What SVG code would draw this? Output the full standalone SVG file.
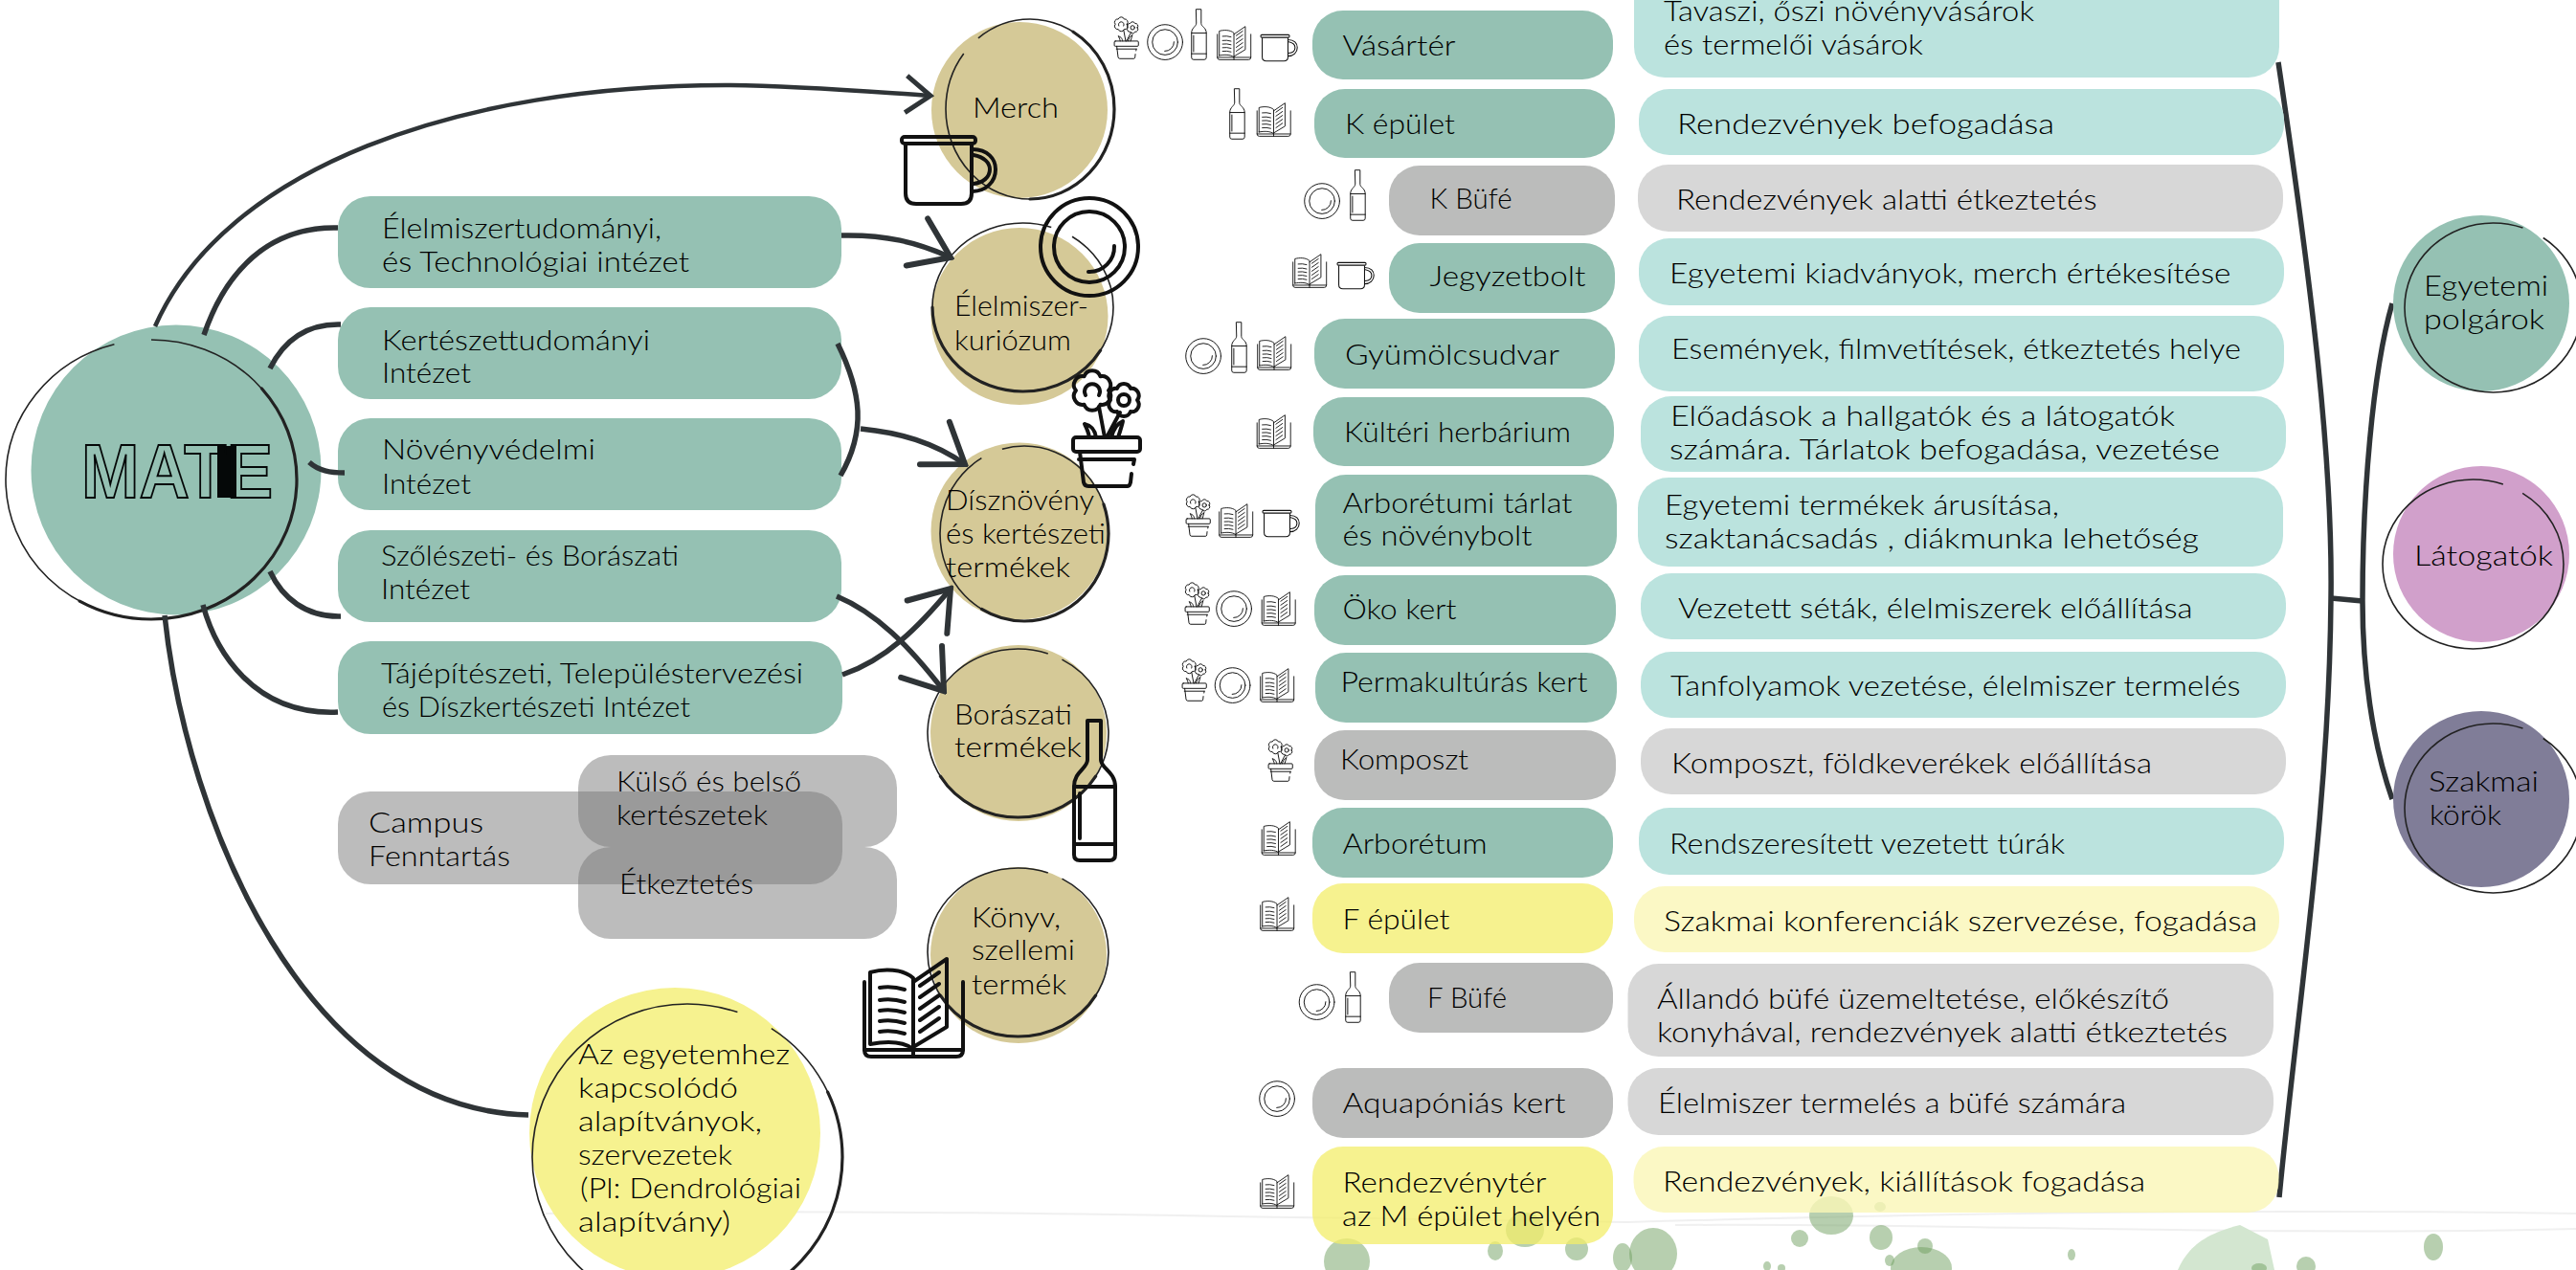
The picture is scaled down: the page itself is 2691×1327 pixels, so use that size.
<svg xmlns="http://www.w3.org/2000/svg" width="2691" height="1327" viewBox="0 0 2691 1327">
<style>
text{font-family:"Lato","Liberation Sans",sans-serif;font-size:29px;font-weight:300;fill:#000;}
.teal{fill:#95c1b3}.gray{fill:#bbbcbb}.yel{fill:#f3ee6a;fill-opacity:.75}.ltt{fill:#bbe3de}.ltg{fill:#d7d7d7}.lty{fill:#faf6b6;fill-opacity:.8}.ov{fill:#767776;fill-opacity:.49}
.beige{fill:#d5c997}
.sk{fill:none;stroke:#222;stroke-width:1.6;}
.skb{fill:none;stroke:#222;stroke-width:3.2;stroke-linecap:round}
.con{fill:none;stroke:#2f3437;stroke-width:5.5;}
.blob{fill:#6fa060;fill-opacity:.5}
.ic{fill:none;stroke:#111;stroke-linecap:round;stroke-linejoin:round}
use{stroke-width:2.7}
#large-icons use{stroke-width:4}
</style>
<defs>
<marker id="head" markerUnits="userSpaceOnUse" viewBox="-46 -32 50 64" refX="0" refY="0" markerWidth="50" markerHeight="64" orient="auto"><path d="M-38.5 -27L0 0L-38.5 27" fill="none" stroke="#2f3437" stroke-width="6" stroke-linecap="round"/></marker>
<marker id="heads" markerUnits="userSpaceOnUse" viewBox="-32 -24 36 48" refX="0" refY="0" markerWidth="36" markerHeight="48" orient="auto"><path d="M-25.6 -19.3L0 0L-25.6 19.3" fill="none" stroke="#2f3437" stroke-width="5"/></marker>
<g id="flower" class="ic">
<path d="M40 23A9 9 0 0 1 31.500 37.700A9 9 0 0 1 14.500 37.700A9 9 0 0 1 6 23A9 9 0 0 1 14.500 8.300A9 9 0 0 1 31.500 8.300A9 9 0 0 1 40 23Z"/>
<path d="M16 28A8 8 0 1 1 30 28"/>
<path d="M70 33A7.500 7.500 0 0 1 63 45.100A7.500 7.500 0 0 1 49 45.100A7.500 7.500 0 0 1 42 33A7.500 7.500 0 0 1 49 20.900A7.500 7.500 0 0 1 63 20.900A7.500 7.500 0 0 1 70 33Z"/>
<circle cx="56" cy="33" r="6"/>
<path d="M30 40L36 72M52 46L38 72M15 58C24 60 26 66 27 72M20 72C19 66 17 62 15 58M55 55C48 58 45 64 43 72M50 72C52 66 54 60 55 55"/>
<rect x="3" y="72" width="70" height="15" rx="3"/>
<path d="M9 95L67 95M10 87L14 119Q15 123 19 123L60 123Q62 123 63 119L64 110M66 100L67 95"/>
</g>
<g id="mug" class="ic">
<rect x="0" y="1" width="77" height="7" rx="3"/>
<path d="M4 10L4 60Q4 71 15 71L62 71Q73 71 73 60L73 10"/>
<path d="M73 14C90 14 98 24 98 35C98 48 88 58 73 58M75 20C86 22 92 28 92 35C92 43 85 49 75 50"/>
</g>
<g id="plate" class="ic">
<circle cx="53" cy="53" r="51"/><circle cx="53" cy="53" r="37"/>
<path d="M79 52A26 26 0 0 1 52 79"/>
</g>
<g id="bottle" class="ic">
<path d="M16 2L30 2L30 43C30 52 45 55 45 71L45 142Q45 148 39 148L8 148Q2 148 2 142L2 71C2 55 16 52 16 43Z"/>
<path d="M2 71L45 71M2 131L45 131M8 78L8 125"/>
</g>
<g id="book" class="ic">
<path d="M2 26L2 97Q2 104 9 104L98 104Q105 104 105 97L105 26"/>
<path d="M8 91L8 16C22 12 42 12 53 22L53 96C42 88 24 88 8 91ZM53 26L88 2L88 73L53 94"/>
<path d="M2 97L53 97M53 97L105 97M53 97L53 104"/>
<path d="M18 32Q31 30 44 34M18 45Q31 43 44 47M18 56Q31 54 44 58M18 67Q31 65 44 69M18 78Q31 76 44 80M60 30L80 16M60 42L80 28M60 54L80 40M60 66L80 52M60 78L80 64"/>
</g>
</defs>

<rect width="2691" height="1327" fill="#fff"/>

<g id="background">
<path d="M570 1268C900 1262 1300 1272 1700 1277C1950 1270 2300 1262 2691 1268M1750 1280C2050 1278 2350 1292 2691 1284" fill="none" stroke="#f0f0f0" stroke-width="2"/>
<ellipse class="blob" cx="1407" cy="1318" rx="24" ry="24"/>
<ellipse class="blob" cx="1562" cy="1307" rx="8" ry="10"/>
<ellipse class="blob" cx="1593" cy="1285" rx="20" ry="18"/>
<ellipse class="blob" cx="1647" cy="1305" rx="12" ry="12"/>
<ellipse class="blob" cx="1695" cy="1314" rx="10" ry="15"/>
<ellipse class="blob" cx="1727" cy="1310" rx="25" ry="27"/>
<ellipse class="blob" cx="1846" cy="1323" rx="4" ry="5"/>
<ellipse class="blob" cx="1861" cy="1325" rx="4" ry="4"/>
<ellipse class="blob" cx="1880" cy="1294" rx="9" ry="9"/>
<ellipse class="blob" cx="1913" cy="1270" rx="23" ry="20"/>
<ellipse class="blob" cx="1964" cy="1261" rx="6" ry="5"/>
<ellipse class="blob" cx="1965" cy="1293" rx="12" ry="13"/>
<ellipse class="blob" cx="1974" cy="1317" rx="5" ry="6"/>
<ellipse class="blob" cx="2011" cy="1302" rx="8" ry="8"/>
<ellipse class="blob" cx="2007" cy="1325" rx="32" ry="22"/>
<ellipse class="blob" cx="2164" cy="1311" rx="4" ry="6"/>
<path d="M2340 1280L2369 1295L2376 1327L2275 1327C2285 1305 2300 1290 2340 1280Z" fill="#d3e6d0"/>
<ellipse class="blob" cx="2360" cy="1325" rx="8" ry="5"/>
<ellipse class="blob" cx="2409" cy="1323" rx="10" ry="10"/>
<ellipse class="blob" cx="2542" cy="1303" rx="10" ry="14"/>
</g>

<g id="node-mate">
<circle cx="184" cy="491" r="151.5" fill="#95c1b3"/>
<ellipse class="sk" cx="158" cy="501" rx="152" ry="146" pathLength="360" stroke-dasharray="345 15" stroke-dashoffset="-270"/>
<ellipse class="skb" cx="158" cy="501" rx="152" ry="146" pathLength="360" stroke-dasharray="160 200" stroke-dashoffset="-320"/>
<rect x="227" y="466" width="20" height="54" fill="#050808"/>
<text x="85" y="520" textLength="200" lengthAdjust="spacingAndGlyphs" style="font-family:'Liberation Sans',sans-serif;font-size:80px;font-weight:700;fill:none;stroke:#050808;stroke-width:2">MATE</text>
</g>

<g id="node-elelmiszertud"><rect class="teal" x="353" y="205" width="526" height="96" rx="34"/>
<text x="399" y="249" textLength="292" lengthAdjust="spacingAndGlyphs">Élelmiszertudományi,</text>
<text x="399" y="283.500" textLength="321" lengthAdjust="spacingAndGlyphs">és Technológiai intézet</text></g>
<g id="node-kerteszet"><rect class="teal" x="353" y="321" width="526" height="96" rx="34"/>
<text x="399" y="366" textLength="280" lengthAdjust="spacingAndGlyphs">Kertészettudományi</text>
<text x="399" y="400" textLength="93" lengthAdjust="spacingAndGlyphs">Intézet</text></g>
<g id="node-novenyvedelmi"><rect class="teal" x="353" y="437" width="526" height="96" rx="34"/>
<text x="399" y="480" textLength="223" lengthAdjust="spacingAndGlyphs">Növényvédelmi</text>
<text x="399" y="516" textLength="93" lengthAdjust="spacingAndGlyphs">Intézet</text></g>
<g id="node-szoleszeti"><rect class="teal" x="353" y="554" width="526" height="96" rx="34"/>
<text x="398" y="590.500" textLength="311" lengthAdjust="spacingAndGlyphs">Szőlészeti- és Borászati</text>
<text x="398" y="626" textLength="93" lengthAdjust="spacingAndGlyphs">Intézet</text></g>
<g id="node-tajepiteszeti"><rect class="teal" x="353" y="670" width="527" height="97" rx="34"/>
<text x="398" y="714" textLength="441" lengthAdjust="spacingAndGlyphs">Tájépítészeti, Településtervezési</text>
<text x="399" y="749" textLength="322" lengthAdjust="spacingAndGlyphs">és Díszkertészeti Intézet</text></g>

<g id="node-campus"><rect class="ov" x="353" y="827" width="527" height="97" rx="34"/>
<text x="385" y="870" textLength="120" lengthAdjust="spacingAndGlyphs">Campus</text>
<text x="385" y="905" textLength="148" lengthAdjust="spacingAndGlyphs">Fenntartás</text></g>
<g id="node-kerteszetek"><rect class="ov" x="604" y="789" width="333" height="96" rx="34"/>
<text x="644" y="827" textLength="193" lengthAdjust="spacingAndGlyphs">Külső és belső</text>
<text x="644" y="862" textLength="158" lengthAdjust="spacingAndGlyphs">kertészetek</text></g>
<g id="node-etkeztetes"><rect class="ov" x="604" y="885" width="333" height="96" rx="34"/>
<text x="647" y="934" textLength="140" lengthAdjust="spacingAndGlyphs">Étkeztetés</text></g>

<g id="node-merch"><circle class="beige" cx="1065" cy="115" r="92"/>
<ellipse class="sk" cx="1076" cy="114" rx="88" ry="94" pathLength="360" stroke-dasharray="346 14" stroke-dashoffset="-233"/>
<ellipse class="skb" cx="1076" cy="114" rx="88" ry="94" pathLength="360" stroke-dasharray="150 210" stroke-dashoffset="-300"/>
<text x="1016" y="123" textLength="90" lengthAdjust="spacingAndGlyphs">Merch</text></g>
<g id="node-kuriozum"><circle class="beige" cx="1065" cy="330.500" r="92.500"/>
<ellipse class="sk" cx="1068.500" cy="321" rx="94.500" ry="88" pathLength="360" stroke-dasharray="345 15" stroke-dashoffset="-304"/>
<ellipse class="skb" cx="1068.500" cy="321" rx="94.500" ry="88" pathLength="360" stroke-dasharray="150 210" stroke-dashoffset="-30"/>
<text x="997" y="330" textLength="140" lengthAdjust="spacingAndGlyphs">Élelmiszer-</text>
<text x="997" y="366" textLength="122" lengthAdjust="spacingAndGlyphs">kuriózum</text></g>
<g id="node-disznoveny"><circle class="beige" cx="1065" cy="555" r="92.500"/>
<ellipse class="sk" cx="1070" cy="557.500" rx="88" ry="91.500" pathLength="360" stroke-dasharray="345 15" stroke-dashoffset="-255"/>
<ellipse class="skb" cx="1070" cy="557.500" rx="88" ry="91.500" pathLength="360" stroke-dasharray="140 220" stroke-dashoffset="-340"/>
<text x="988" y="533" textLength="155" lengthAdjust="spacingAndGlyphs">Dísznövény</text>
<text x="988" y="568" textLength="167" lengthAdjust="spacingAndGlyphs">és kertészeti</text>
<text x="988" y="603" textLength="130" lengthAdjust="spacingAndGlyphs">termékek</text></g>
<g id="node-boraszati"><circle class="beige" cx="1064" cy="766" r="92"/>
<ellipse class="sk" cx="1063.500" cy="766" rx="94.500" ry="88" pathLength="360" stroke-dasharray="350 10" stroke-dashoffset="-300"/>
<ellipse class="skb" cx="1063.500" cy="766" rx="94.500" ry="88" pathLength="360" stroke-dasharray="120 240" stroke-dashoffset="-30"/>
<text x="997" y="757" textLength="123" lengthAdjust="spacingAndGlyphs">Borászati</text>
<text x="997" y="791" textLength="133" lengthAdjust="spacingAndGlyphs">termékek</text></g>
<g id="node-konyv"><circle class="beige" cx="1064" cy="998" r="92"/>
<ellipse class="sk" cx="1063.500" cy="995" rx="94.500" ry="88" pathLength="360" stroke-dasharray="350 10" stroke-dashoffset="-300"/>
<ellipse class="skb" cx="1063.500" cy="995" rx="94.500" ry="88" pathLength="360" stroke-dasharray="120 240" stroke-dashoffset="-30"/>
<text x="1015" y="969" textLength="93" lengthAdjust="spacingAndGlyphs">Könyv,</text>
<text x="1015" y="1003" textLength="108" lengthAdjust="spacingAndGlyphs">szellemi</text>
<text x="1015" y="1039" textLength="99" lengthAdjust="spacingAndGlyphs">termék</text></g>
<g id="node-alapitvanyok"><circle cx="705" cy="1184" r="152" fill="#f6f28f"/>
<ellipse class="sk" cx="718" cy="1209" rx="162" ry="160" pathLength="360" stroke-dasharray="346 14" stroke-dashoffset="-303"/>
<ellipse class="skb" cx="718" cy="1209" rx="162" ry="160" pathLength="360" stroke-dasharray="110 250" stroke-dashoffset="-335"/>
<text x="604" y="1112" textLength="221" lengthAdjust="spacingAndGlyphs">Az egyetemhez</text>
<text x="604" y="1147" textLength="167" lengthAdjust="spacingAndGlyphs">kapcsolódó</text>
<text x="604" y="1182" textLength="192" lengthAdjust="spacingAndGlyphs">alapítványok,</text>
<text x="604" y="1217" textLength="161" lengthAdjust="spacingAndGlyphs">szervezetek</text>
<text x="606" y="1252" textLength="231" lengthAdjust="spacingAndGlyphs">(Pl: Dendrológiai</text>
<text x="604" y="1287" textLength="159" lengthAdjust="spacingAndGlyphs">alapítvány)</text></g>

<g id="connectors">
<path class="con" style="stroke-width:4.500" marker-end="url(#heads)" d="M162 341C235 175 480 88 763 89C840 90 910 96 972 100"/>
<path class="con" d="M213 350C235 285 280 236 353 238"/>
<path class="con" marker-end="url(#head)" d="M879 246C925 245 958 253 993 269"/>
<path class="con" d="M282 385C297 355 320 338 356 339"/>
<path class="con" d="M323 483C333 492 345 494 360 494"/>
<path class="con" d="M282 597C295 625 320 645 356 644"/>
<path class="con" d="M212 632C225 680 265 748 353 744"/>
<path class="con" d="M172 643C195 860 320 1160 552 1165"/>
<path class="con" d="M875 359C900 410 905 450 878 497"/>
<path class="con" marker-end="url(#head)" d="M899 448C940 452 975 462 1008 485"/>
<path class="con" marker-end="url(#head)" d="M880 705C925 690 960 655 993 615"/>
<path class="con" marker-end="url(#head)" d="M874 623C915 640 950 675 986 722"/>
<path class="con" d="M2380 65C2415 300 2437 480 2435 625C2433 850 2400 1050 2381 1251"/>
<path class="con" d="M2499 317C2478 390 2468 520 2468 628C2468 700 2478 775 2499 835"/>
<path class="con" d="M2435 625L2468 628"/>
</g>

<g id="large-icons">
<use href="#mug" transform="translate(942 142)"/>
<use href="#plate" transform="translate(1085 205)"/>
<use href="#flower" transform="translate(1118 385)"/>
<use href="#bottle" transform="translate(1120 751)"/>
<use href="#book" transform="translate(901 1000)"/>
</g>

<g id="node-vasarter"><rect class="teal" x="1371" y="11" width="314" height="72" rx="32"/><text x="1402.500" y="58" textLength="118" lengthAdjust="spacingAndGlyphs">Vásártér</text>
<use href="#flower" transform="translate(1163 17) scale(.36)"/><use href="#plate" transform="translate(1198 25) scale(.36)"/><use href="#bottle" transform="translate(1244 9) scale(.36)"/><use href="#book" transform="translate(1271 27) scale(.34)"/><use href="#mug" transform="translate(1317 36) scale(.39)"/></g>
<g id="node-k-epulet"><rect class="teal" x="1373" y="93" width="314" height="72" rx="32"/><text x="1405" y="140" textLength="115" lengthAdjust="spacingAndGlyphs">K épület</text>
<use href="#bottle" transform="translate(1284 92) scale(.36)"/><use href="#book" transform="translate(1312.500 107) scale(.34)"/></g>
<g id="node-k-bufe"><rect class="gray" x="1451" y="173" width="236" height="73" rx="32"/><text x="1493.500" y="218" textLength="86" lengthAdjust="spacingAndGlyphs">K Büfé</text>
<use href="#plate" transform="translate(1362 191) scale(.36)"/><use href="#bottle" transform="translate(1410 177) scale(.36)"/></g>
<g id="node-jegyzetbolt"><rect class="teal" x="1451" y="254" width="236" height="73" rx="32"/><text x="1493.500" y="299" textLength="163" lengthAdjust="spacingAndGlyphs">Jegyzetbolt</text>
<use href="#book" transform="translate(1350 265) scale(.34)"/><use href="#mug" transform="translate(1397 274) scale(.39)"/></g>
<g id="node-gyumolcsudvar"><rect class="teal" x="1373" y="333" width="314" height="73" rx="32"/><text x="1405" y="381" textLength="224" lengthAdjust="spacingAndGlyphs">Gyümölcsudvar</text>
<use href="#plate" transform="translate(1238 353) scale(.36)"/><use href="#bottle" transform="translate(1286 336) scale(.36)"/><use href="#book" transform="translate(1313 351) scale(.34)"/></g>
<g id="node-kulteri"><rect class="teal" x="1372" y="415" width="314" height="72" rx="32"/><text x="1404" y="462" textLength="237" lengthAdjust="spacingAndGlyphs">Kültéri herbárium</text>
<use href="#book" transform="translate(1312.500 433) scale(.34)"/></g>
<g id="node-arboretumi"><rect class="teal" x="1374" y="496" width="315" height="96" rx="32"/><text x="1402.500" y="536" textLength="240" lengthAdjust="spacingAndGlyphs">Arborétumi tárlat</text><text x="1402.500" y="570" textLength="198" lengthAdjust="spacingAndGlyphs">és növénybolt</text>
<use href="#flower" transform="translate(1238 516) scale(.36)"/><use href="#book" transform="translate(1273 526) scale(.34)"/><use href="#mug" transform="translate(1319 533) scale(.39)"/></g>
<g id="node-oko"><rect class="teal" x="1373" y="601" width="315" height="73" rx="32"/><text x="1402.500" y="647" textLength="119" lengthAdjust="spacingAndGlyphs">Öko kert</text>
<use href="#flower" transform="translate(1237 608) scale(.36)"/><use href="#plate" transform="translate(1270 617) scale(.36)"/><use href="#book" transform="translate(1317.500 618) scale(.34)"/></g>
<g id="node-perma"><rect class="teal" x="1374" y="682" width="315" height="73" rx="32"/><text x="1400.500" y="723" textLength="258" lengthAdjust="spacingAndGlyphs">Permakultúrás kert</text>
<use href="#flower" transform="translate(1234 688) scale(.36)"/><use href="#plate" transform="translate(1268.500 697) scale(.36)"/><use href="#book" transform="translate(1316 698) scale(.34)"/></g>
<g id="node-komposzt"><rect class="gray" x="1373" y="763" width="315" height="73" rx="32"/><text x="1400" y="804" textLength="134" lengthAdjust="spacingAndGlyphs">Komposzt</text>
<use href="#flower" transform="translate(1324 772) scale(.36)"/></g>
<g id="node-arboretum"><rect class="teal" x="1371" y="844" width="314" height="73" rx="32"/><text x="1402.500" y="892" textLength="151" lengthAdjust="spacingAndGlyphs">Arborétum</text>
<use href="#book" transform="translate(1317.500 858) scale(.34)"/></g>
<g id="node-f-epulet"><rect class="yel" x="1371" y="923" width="314" height="73" rx="32"/><text x="1402.500" y="971" textLength="112" lengthAdjust="spacingAndGlyphs">F épület</text>
<use href="#book" transform="translate(1316 937) scale(.34)"/></g>
<g id="node-f-bufe"><rect class="gray" x="1451" y="1006" width="234" height="73" rx="32"/><text x="1491" y="1053" textLength="83" lengthAdjust="spacingAndGlyphs">F Büfé</text>
<use href="#plate" transform="translate(1356.500 1028) scale(.36)"/><use href="#bottle" transform="translate(1405 1015) scale(.36)"/></g>
<g id="node-aquaponias"><rect class="gray" x="1371" y="1116" width="314" height="73" rx="32"/><text x="1402.500" y="1163" textLength="233" lengthAdjust="spacingAndGlyphs">Aquapóniás kert</text>
<use href="#plate" transform="translate(1315 1129) scale(.36)"/></g>
<g id="node-rendezvenyter"><rect class="yel" x="1371" y="1198" width="314" height="102" rx="32"/><text x="1402.500" y="1246" textLength="213" lengthAdjust="spacingAndGlyphs">Rendezvénytér</text><text x="1402" y="1281" textLength="270" lengthAdjust="spacingAndGlyphs">az M épület helyén</text>
<use href="#book" transform="translate(1316 1227) scale(.34)"/></g>

<g id="desc-vasarter"><rect class="ltt" x="1707" y="-30" width="674" height="111" rx="32"/><text x="1738" y="22" textLength="387" lengthAdjust="spacingAndGlyphs">Tavaszi, őszi növényvásárok</text><text x="1738" y="57" textLength="271" lengthAdjust="spacingAndGlyphs">és termelői vásárok</text></g>
<g id="desc-k-epulet"><rect class="ltt" x="1712" y="93" width="674" height="69" rx="32"/><text x="1752" y="140" textLength="394" lengthAdjust="spacingAndGlyphs">Rendezvények befogadása</text></g>
<g id="desc-k-bufe"><rect class="ltg" x="1711" y="172" width="674" height="70" rx="32"/><text x="1751" y="219" textLength="439.500" lengthAdjust="spacingAndGlyphs">Rendezvények alatti étkeztetés</text></g>
<g id="desc-jegyzetbolt"><rect class="ltt" x="1712" y="249" width="674" height="70" rx="32"/><text x="1744" y="296" textLength="586.500" lengthAdjust="spacingAndGlyphs">Egyetemi kiadványok, merch értékesítése</text></g>
<g id="desc-gyumolcsudvar"><rect class="ltt" x="1712" y="330" width="674" height="79" rx="32"/><text x="1746" y="375" textLength="595" lengthAdjust="spacingAndGlyphs">Események, filmvetítések, étkeztetés helye</text></g>
<g id="desc-kulteri"><rect class="ltt" x="1714" y="414" width="674" height="79" rx="32"/><text x="1745" y="445" textLength="527" lengthAdjust="spacingAndGlyphs">Előadások a hallgatók és a látogatók</text><text x="1744" y="480" textLength="575" lengthAdjust="spacingAndGlyphs">számára. Tárlatok befogadása, vezetése</text></g>
<g id="desc-arboretumi"><rect class="ltt" x="1711" y="499" width="674" height="93" rx="32"/><text x="1739" y="538" textLength="412" lengthAdjust="spacingAndGlyphs">Egyetemi termékek árusítása,</text><text x="1739" y="573" textLength="558" lengthAdjust="spacingAndGlyphs">szaktanácsadás , diákmunka lehetőség</text></g>
<g id="desc-oko"><rect class="ltt" x="1714" y="599" width="674" height="69" rx="32"/><text x="1753" y="646" textLength="537.500" lengthAdjust="spacingAndGlyphs">Vezetett séták, élelmiszerek előállítása</text></g>
<g id="desc-perma"><rect class="ltt" x="1714" y="681" width="674" height="69" rx="32"/><text x="1745" y="727" textLength="595.500" lengthAdjust="spacingAndGlyphs">Tanfolyamok vezetése, élelmiszer termelés</text></g>
<g id="desc-komposzt"><rect class="ltg" x="1714" y="761" width="674" height="69" rx="32"/><text x="1746" y="808" textLength="502" lengthAdjust="spacingAndGlyphs">Komposzt, földkeverékek előállítása</text></g>
<g id="desc-arboretum"><rect class="ltt" x="1712" y="844" width="674" height="70" rx="32"/><text x="1744" y="892" textLength="413" lengthAdjust="spacingAndGlyphs">Rendszeresített vezetett túrák</text></g>
<g id="desc-f-epulet"><rect class="lty" x="1707" y="926" width="674" height="69" rx="32"/><text x="1738" y="973" textLength="620" lengthAdjust="spacingAndGlyphs">Szakmai konferenciák szervezése, fogadása</text></g>
<g id="desc-f-bufe"><rect class="ltg" x="1700.500" y="1007" width="674.500" height="97" rx="32"/><text x="1731" y="1054" textLength="535" lengthAdjust="spacingAndGlyphs">Állandó büfé üzemeltetése, előkészítő</text><text x="1731" y="1089" textLength="596" lengthAdjust="spacingAndGlyphs">konyhával, rendezvények alatti étkeztetés</text></g>
<g id="desc-aquaponias"><rect class="ltg" x="1700.500" y="1116" width="674.500" height="70" rx="32"/><text x="1732" y="1163" textLength="489" lengthAdjust="spacingAndGlyphs">Élelmiszer termelés a büfé számára</text></g>
<g id="desc-rendezvenyter"><rect class="lty" x="1706.500" y="1198" width="674" height="69" rx="32"/><text x="1737" y="1245" textLength="504" lengthAdjust="spacingAndGlyphs">Rendezvények, kiállítások fogadása</text></g>

<g id="node-egyetemi"><circle cx="2592" cy="317" r="92" fill="#95c1b3"/>
<ellipse class="sk" cx="2604.500" cy="321.500" rx="92.500" ry="88.500" pathLength="360" stroke-dasharray="345 15" stroke-dashoffset="-305"/>
<text x="2532" y="309" textLength="130" lengthAdjust="spacingAndGlyphs">Egyetemi</text><text x="2532" y="344" textLength="126" lengthAdjust="spacingAndGlyphs">polgárok</text></g>
<g id="node-latogatok"><circle cx="2592" cy="579" r="92" fill="#d1a0cb"/>
<ellipse class="sk" cx="2583.500" cy="589.500" rx="94.500" ry="88.500" pathLength="360" stroke-dasharray="346 14" stroke-dashoffset="-304"/>
<text x="2522" y="591" textLength="145" lengthAdjust="spacingAndGlyphs">Látogatók</text></g>
<g id="node-szakmai"><circle cx="2592" cy="835" r="92" fill="#807d98"/>
<ellipse class="sk" cx="2604.500" cy="844.500" rx="92.500" ry="88.500" pathLength="360" stroke-dasharray="345 15" stroke-dashoffset="-305"/>
<text x="2537" y="826.500" textLength="115" lengthAdjust="spacingAndGlyphs">Szakmai</text><text x="2538" y="862" textLength="75" lengthAdjust="spacingAndGlyphs">körök</text></g>
</svg>
